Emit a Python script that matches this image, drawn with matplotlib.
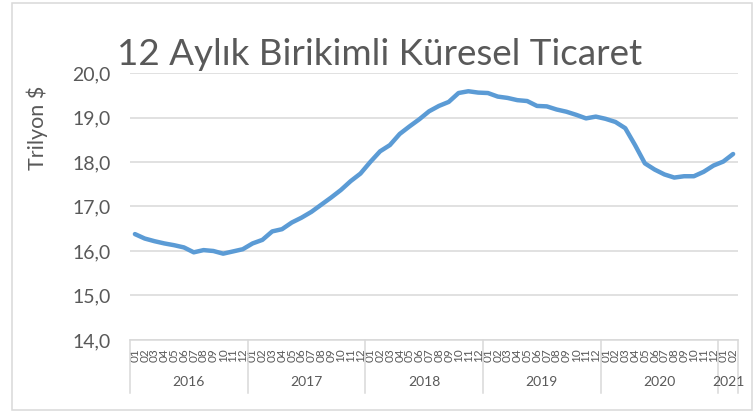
import matplotlib
matplotlib.use("Agg")
import matplotlib.pyplot as plt
import matplotlib.transforms as mtransforms
from matplotlib.patches import Rectangle
from matplotlib.ticker import FuncFormatter

plt.rcParams['font.family'] = ['Lato', 'DejaVu Sans']

# 12-month cumulative world trade, trillion $, 2016-01 .. 2021-02
values = [
    16.38, 16.28, 16.22, 16.17, 16.13, 16.08, 15.97, 16.02, 16.00, 15.94, 15.99, 16.04,  # 2016
    16.17, 16.25, 16.44, 16.49, 16.64, 16.75, 16.88, 17.04, 17.20, 17.37, 17.57, 17.74,  # 2017
    18.00, 18.24, 18.38, 18.63, 18.80, 18.96, 19.14, 19.26, 19.35, 19.55, 19.59, 19.56,  # 2018
    19.55, 19.47, 19.44, 19.39, 19.37, 19.26, 19.25, 19.18, 19.13, 19.06, 18.98, 19.02,  # 2019
    18.97, 18.90, 18.76, 18.38, 17.97, 17.83, 17.72, 17.65, 17.68, 17.68, 17.78, 17.92,  # 2020
    18.01, 18.18,                                                                          # 2021
]
years = ['2016', '2017', '2018', '2019', '2020', '2021']
months_per_year = [12, 12, 12, 12, 12, 2]
month_labels = [f"{m:02d}" for n in months_per_year for m in range(1, n + 1)]

title = "12 Aylık Birikimli Küresel Ticaret"
ylabel = "Trilyon $"

grey = '#595959'
light = '#d9d9d9'
blue = '#5b9bd5'

fig = plt.figure(figsize=(7.55, 4.12), dpi=100)
ax = fig.add_axes([0.1722, 0.1748, 0.8053, 0.648])

x = list(range(len(values)))
ax.plot(x, values, color=blue, linewidth=3.2, solid_capstyle='round', solid_joinstyle='round', zorder=3)

ax.set_xlim(-0.5, len(values) - 0.5)
ax.set_ylim(14, 20)
ax.set_yticks([14, 15, 16, 17, 18, 19, 20])
ax.yaxis.set_major_formatter(FuncFormatter(lambda v, p: f"{v:.1f}".replace('.', ',')))
ax.grid(axis='y', color=light, linewidth=1.1)
ax.set_axisbelow(True)

for s in ['top', 'right', 'left']:
    ax.spines[s].set_visible(False)
ax.spines['bottom'].set_color(light)
ax.spines['bottom'].set_linewidth(1.1)

ax.tick_params(axis='y', length=0, pad=14, labelsize=14, labelcolor=grey)
ax.set_xticks(x)
ax.set_xticklabels(month_labels, rotation=90, fontsize=8.5, color=grey)
ax.tick_params(axis='x', length=0, pad=6)

ax.set_ylabel(ylabel, fontsize=15.5, color=grey)
ax.yaxis.set_label_coords(-0.135, 0.794)

# year group labels and separators below the axis
trans = mtransforms.blended_transform_factory(ax.transData, ax.transAxes)
start = -0.5
for yr, n in zip(years, months_per_year):
    ax.plot([start, start], [0, -0.198], transform=trans, color=light, linewidth=1.1, clip_on=False)
    ax.text(start + n / 2, -0.157, yr, transform=trans, ha='center', va='center',
            fontsize=10, color=grey)
    start += n
ax.plot([start, start], [0, -0.198], transform=trans, color=light, linewidth=1.1, clip_on=False)

fig.text(0.503, 0.842, title, ha='center', va='baseline', fontsize=26.5,
         fontweight='normal', color=grey)

fig.patches.append(Rectangle((0.016, 0.005), 0.98, 0.988, transform=fig.transFigure,
                             fill=False, edgecolor=light, linewidth=1.1))

fig.savefig('out.png', dpi=100)
